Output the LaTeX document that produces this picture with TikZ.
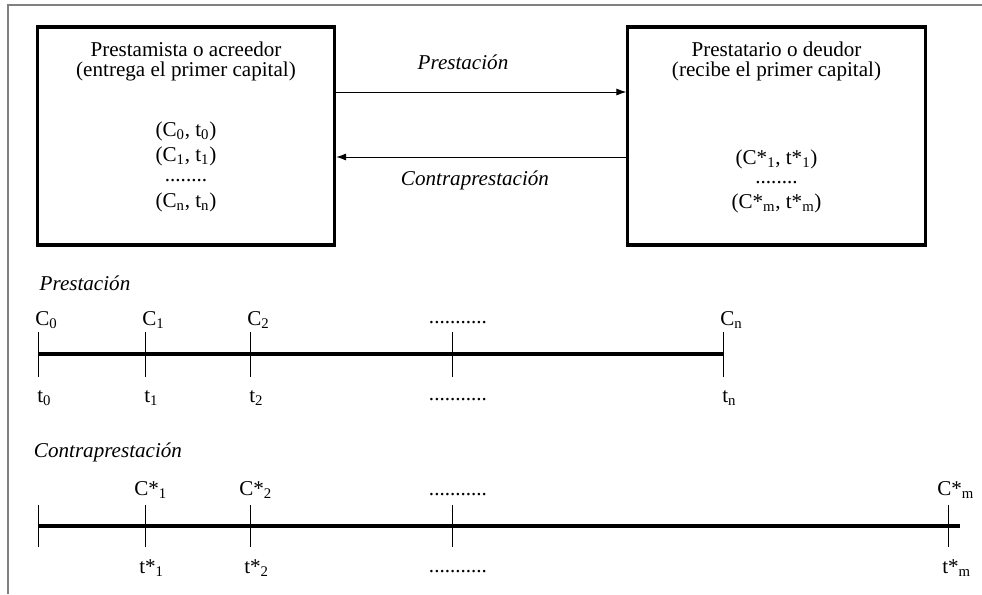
\documentclass[tikz,border=0pt]{standalone}
\usepackage{fontspec}
\setmainfont{Liberation Serif}
\usetikzlibrary{arrows.meta}

\tikzset{
    caja/.style={draw, line width=2.2pt, inner sep=0pt,
        minimum width=7.43cm, minimum height=5.45cm},
    texto/.style={inner sep=0.5pt},
    flecha/.style={line width=0.7pt, -{Latex[length=7pt,width=5pt]}},
    eje/.style={line width=2.2pt},
    marca/.style={line width=0.7pt}
}

\begin{document}
\begin{tikzpicture}[x=0.025cm, y=-0.025cm, font=\fontsize{15}{18}\selectfont]
    \path[use as bounding box] (0,0) rectangle (982,594);

    % Frame
    \draw[gray, line width=0.8pt] (982,5) -- (8,5) -- (8,594);

    % Boxes
    \node[caja] (prestamista) at (186,136) {};
    \node[caja] (prestatario) at (776.5,136) {};

    \node[texto] (tit1) at (186,49) {Prestamista o acreedor};
    \node[texto] (sub1) at (186,71) {(entrega el primer capital)};
    \node[texto] (cap0) at (186,131) {(C\textsubscript{0}, t\textsubscript{0})};
    \node[texto] (cap1) at (186,156) {(C\textsubscript{1}, t\textsubscript{1})};
    \node[texto] (pts1) at (186,181) {........};
    \node[texto] (capn) at (186,202) {(C\textsubscript{n}, t\textsubscript{n})};

    \node[texto] (tit2) at (776.5,49) {Prestatario o deudor};
    \node[texto] (sub2) at (776.5,71) {(recibe el primer capital)};
    \node[texto] (capa) at (776.5,159) {(C*\textsubscript{1}, t*\textsubscript{1})};
    \node[texto] (pts2) at (776.5,183) {........};
    \node[texto] (capm) at (776.5,203) {(C*\textsubscript{m}, t*\textsubscript{m})};

    % Arrows
    \coordinate (ida) at (0,92);
    \coordinate (vuelta) at (0,157);
    \draw[flecha] (prestamista.east |- ida) -- (prestatario.west |- ida);
    \draw[flecha] (prestatario.west |- vuelta) -- (prestamista.east |- vuelta);
    \node[texto] (prest) at (463,62) {\textit{Prestación}};
    \node[texto] (contra) at (475,180) {\textit{Contraprestación}};

    % Prestacion
    \node[texto] (lprest) at (85,283) {\textit{Prestación}};
    \coordinate (p0) at (38,354);
    \coordinate (pn) at (723,354);
    \draw[eje] (p0) -- (pn);
    \foreach \x/\s in {38/0, 145/1, 250/2, 723/n}
    {
      \draw[marca] (\x,332) -- (\x,377);
      \node[anchor=west, inner sep=0pt] at (\x-3,320) {C\textsubscript{\s}};
      \node[anchor=west, inner sep=0pt] at (\x-1,398) {t\textsubscript{\s}};
    }
    \draw[marca] (452,332) -- (452,377);
    \node[texto] at (458,323) {...........};
    \node[texto] at (458,400) {...........};

    % Contraprestacion
    \node[texto] (lcontra) at (108,452) {\textit{Contraprestación}};
    \coordinate (q0) at (38,526);
    \coordinate (qm) at (960,526);
    \draw[eje] (q0) -- (qm);
    \draw[marca] (38,505) -- (38,547);
    \foreach \x/\s in {145/1, 250/2, 948/m}
    {
      \draw[marca] (\x,505) -- (\x,547);
      \node[anchor=west, inner sep=0pt] at (\x-11,490) {C*\textsubscript{\s}};
      \node[anchor=west, inner sep=0pt] at (\x-6,568) {t*\textsubscript{\s}};
    }
    \draw[marca] (452,505) -- (452,547);
    \node[texto] at (458,495) {...........};
    \node[texto] at (458,572) {...........};
  \end{tikzpicture}
\end{document}
